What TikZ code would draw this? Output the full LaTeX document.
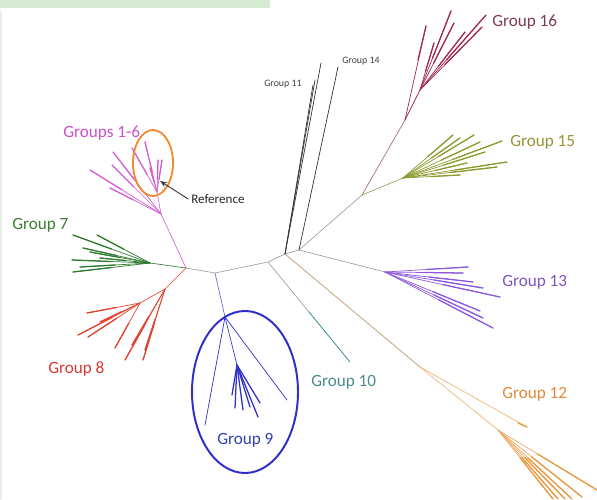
\documentclass[tikz,border=0pt]{standalone}
\usepackage{fontspec}
\setmainfont{Carlito}
\usetikzlibrary{calc, arrows.meta}

\definecolor{gbar}{HTML}{D6E9D3}
\definecolor{stemgray}{HTML}{9A9A9A}
\definecolor{pinkg}{HTML}{D45ED4}
\definecolor{pinkt}{HTML}{CC4FCC}
\definecolor{green7}{HTML}{2F7A30}
\definecolor{greent}{HTML}{3C7D32}
\definecolor{red8}{HTML}{E2432F}
\definecolor{redt}{HTML}{D33A33}
\definecolor{blue9}{HTML}{3030C8}
\definecolor{bluet}{HTML}{2F3FB5}
\definecolor{teal10}{HTML}{3E9090}
\definecolor{tealt}{HTML}{4A8A8F}
\definecolor{org12}{HTML}{E8963E}
\definecolor{orgt}{HTML}{E08A3A}
\definecolor{pur13}{HTML}{8E58E0}
\definecolor{purt}{HTML}{7C55BB}
\definecolor{olv15}{HTML}{8E9A30}
\definecolor{olvt}{HTML}{969337}
\definecolor{mar16}{HTML}{A02A55}
\definecolor{mart}{HTML}{7D3B4C}
\definecolor{circorg}{HTML}{F08A30}

\tikzset{
  grplab/.style={font=\fontsize{12.2}{14}\selectfont, anchor=west, inner sep=0pt},
  smalllab/.style={font=\fontsize{7}{8}\selectfont, text=black!75, anchor=west, inner sep=0pt},
  br/.style={line width=0.45pt, draw=stemgray},
  twig/.style={line width=0.5pt},
  tipend/.style={line width=0.9pt},
}

\begin{document}
\begin{tikzpicture}[x=0.025cm, y=-0.025cm, line cap=round]
\useasboundingbox (0,0) rectangle (597,499);
\fill[gbar] (0,0) rectangle (270,8);
\draw[black!7, line width=1.2pt] (1,12) -- (1,499);

% backbone
\coordinate (a) at (186,268);
\coordinate (b) at (215,273);
\coordinate (c10) at (268,262);
\coordinate (c) at (285,254);
\coordinate (d) at (299,250);
\coordinate (e) at (362,195);
\draw[br] (a) -- (b) -- (c10) -- (c) -- (d) -- (e);

% groups 1-6
\coordinate (r1) at (161,214);
\coordinate (s1) at (157,192);
\draw[draw=pinkg, line width=0.45pt] (a) -- (r1) -- (s1);
\foreach \x/\y in {90/170, 112/165, 113/152, 110/188} {
  \draw[twig, pinkg] (r1) -- (\x,\y);
  \draw[tipend, pinkg] ($(r1)!0.55!(\x,\y)$) -- (\x,\y);
}
\foreach \x/\y in {132/148, 145/142, 150/168, 158/160, 162/160} {
  \draw[twig, pinkg] (s1) -- (\x,\y);
  \draw[tipend, pinkg] ($(s1)!0.4!(\x,\y)$) -- (\x,\y);
}
\draw[circorg, line width=1.3pt] (153,163) ellipse [x radius=20, y radius=33];

% group 7
\coordinate (r7) at (150,263);
\draw[br, draw=green7] (a) -- (r7);
\foreach \x/\y in {73/235, 97/235, 83/248, 72/260, 73/272, 80/267, 100/258, 90/252} {
  \draw[twig, green7] (r7) -- (\x,\y);
  \draw[tipend, green7] ($(r7)!0.5!(\x,\y)$) -- (\x,\y);
}

% group 8
\coordinate (r8) at (165,289);
\coordinate (s8) at (140,303);
\draw[br, draw=red8] (a) -- (r8) -- (s8);
\foreach \x/\y in {78/335, 87/313, 88/337, 100/322, 115/348} {
  \draw[twig, red8] (s8) -- (\x,\y);
  \draw[tipend, red8] ($(s8)!0.45!(\x,\y)$) -- (\x,\y);
}
\foreach \x/\y in {125/360, 143/360, 145/350, 132/345} {
  \draw[twig, red8] (r8) -- (\x,\y);
  \draw[tipend, red8] ($(r8)!0.5!(\x,\y)$) -- (\x,\y);
}

% group 9
\coordinate (r9) at (225,317);
\coordinate (s9) at (237,365);
\draw[line width=0.5pt, draw=blue9!70] (b) -- (r9);
\draw[twig, blue9] (r9) -- (205,425);
\draw[twig, blue9] (r9) -- (287,400);
\draw[twig, blue9] (r9) -- (s9);
\foreach \x/\y in {232/395, 235/408, 243/410, 250/407, 258/417, 260/403} {
  \draw[tipend, blue9] (s9) -- (\x,\y);
}
\draw[blue9, line width=1.4pt] (245,392) ellipse [x radius=53, y radius=81];

% group 10
\coordinate (t10) at (350,362);
\draw[br] (c10) -- ($(c10)!0.5!(t10)$);
\draw[line width=0.6pt, teal10] ($(c10)!0.5!(t10)$) -- (t10);

% groups 11 and 14
\foreach \x/\y in {321/63, 315/80, 313/85} {
  \draw[line width=0.5pt, black!80] (c) -- (\x,\y);
}
\draw[line width=0.5pt, black!80] (d) -- (338,67);

% group 15
\coordinate (r15) at (403,178);
\draw[br, draw=olv15!60!stemgray] (e) -- (r15);
\foreach \x/\y in {453/135, 460/138, 474/135, 480/142, 502/141, 507/162, 497/167, 460/175, 467/163, 485/152} {
  \draw[twig, olv15] (r15) -- (\x,\y);
  \draw[tipend, olv15] ($(r15)!0.5!(\x,\y)$) -- (\x,\y);
}

% group 16
\coordinate (r16) at (405,120);
\coordinate (s16) at (420,90);
\draw[br, draw=mar16!50!stemgray] (e) -- (r16);
\draw[twig, mar16] (r16) -- (s16);
\draw[twig, mar16] (r16) -- (426,26);
\draw[tipend, mar16] (418,60) -- (426,26);
\foreach \x/\y in {451/11, 454/23, 465/32, 486/15, 482/27, 434/43} {
  \draw[twig, mar16] (s16) -- (\x,\y);
  \draw[tipend, mar16] ($(s16)!0.4!(\x,\y)$) -- (\x,\y);
}

% group 13
\coordinate (r13) at (385,272);
\draw[br] (d) -- (r13);
\foreach \x/\y in {468/267, 463/273, 473/282, 483/288, 500/297, 480/311, 483/318, 493/328} {
  \draw[twig, pur13] (r13) -- (\x,\y);
  \draw[tipend, pur13] ($(r13)!0.5!(\x,\y)$) -- (\x,\y);
}

% group 12
\coordinate (s12) at (420,367);
\coordinate (r12) at (498,430);
\draw[line width=0.5pt, draw=org12!45!stemgray] (c) -- (s12);
\draw[line width=0.5pt, draw=org12!70] (s12) -- (527,427);
\draw[tipend, org12] (518,423) -- (527,427);
\draw[line width=0.5pt, draw=org12!70] (s12) -- (r12);
\foreach \x/\y in {597/490, 582/497, 572/499, 565/499, 558/499, 553/499} {
  \draw[twig, org12!80] (r12) -- (\x,\y);
  \draw[tipend, org12] ($(r12)!0.4!(\x,\y)$) -- (\x,\y);
}

% labels
\node[grplab, text=pinkt] (g16) at (63,133) {Groups 1-6};
\node[grplab, text=greent] (g7) at (12,225) {Group 7};
\node[grplab, text=redt] (g8) at (48,369) {Group 8};
\node[grplab, text=bluet] (g9) at (217,440) {Group 9};
\node[grplab, text=tealt] (g10) at (311,382) {Group 10};
\node[smalllab] (g11) at (264,84) {Group 11};
\node[grplab, text=orgt] (g12) at (502,394) {Group 12};
\node[grplab, text=purt] (g13) at (502,282) {Group 13};
\node[smalllab] (g14) at (342,61) {Group 14};
\node[grplab, text=olvt] (g15) at (510,142) {Group 15};
\node[grplab, text=mart] (g16b) at (492,22) {Group 16};
\node[anchor=west, inner sep=0pt, font=\fontsize{9.3}{11}\selectfont, text=black!85] (ref) at (191,199) {Reference};
\coordinate (reftip) at (160,181);
\draw[-{Stealth[length=5pt, width=4pt]}, black!75, line width=0.7pt] ([xshift=-2pt]ref.west) -- (reftip);
\end{tikzpicture}
\end{document}
